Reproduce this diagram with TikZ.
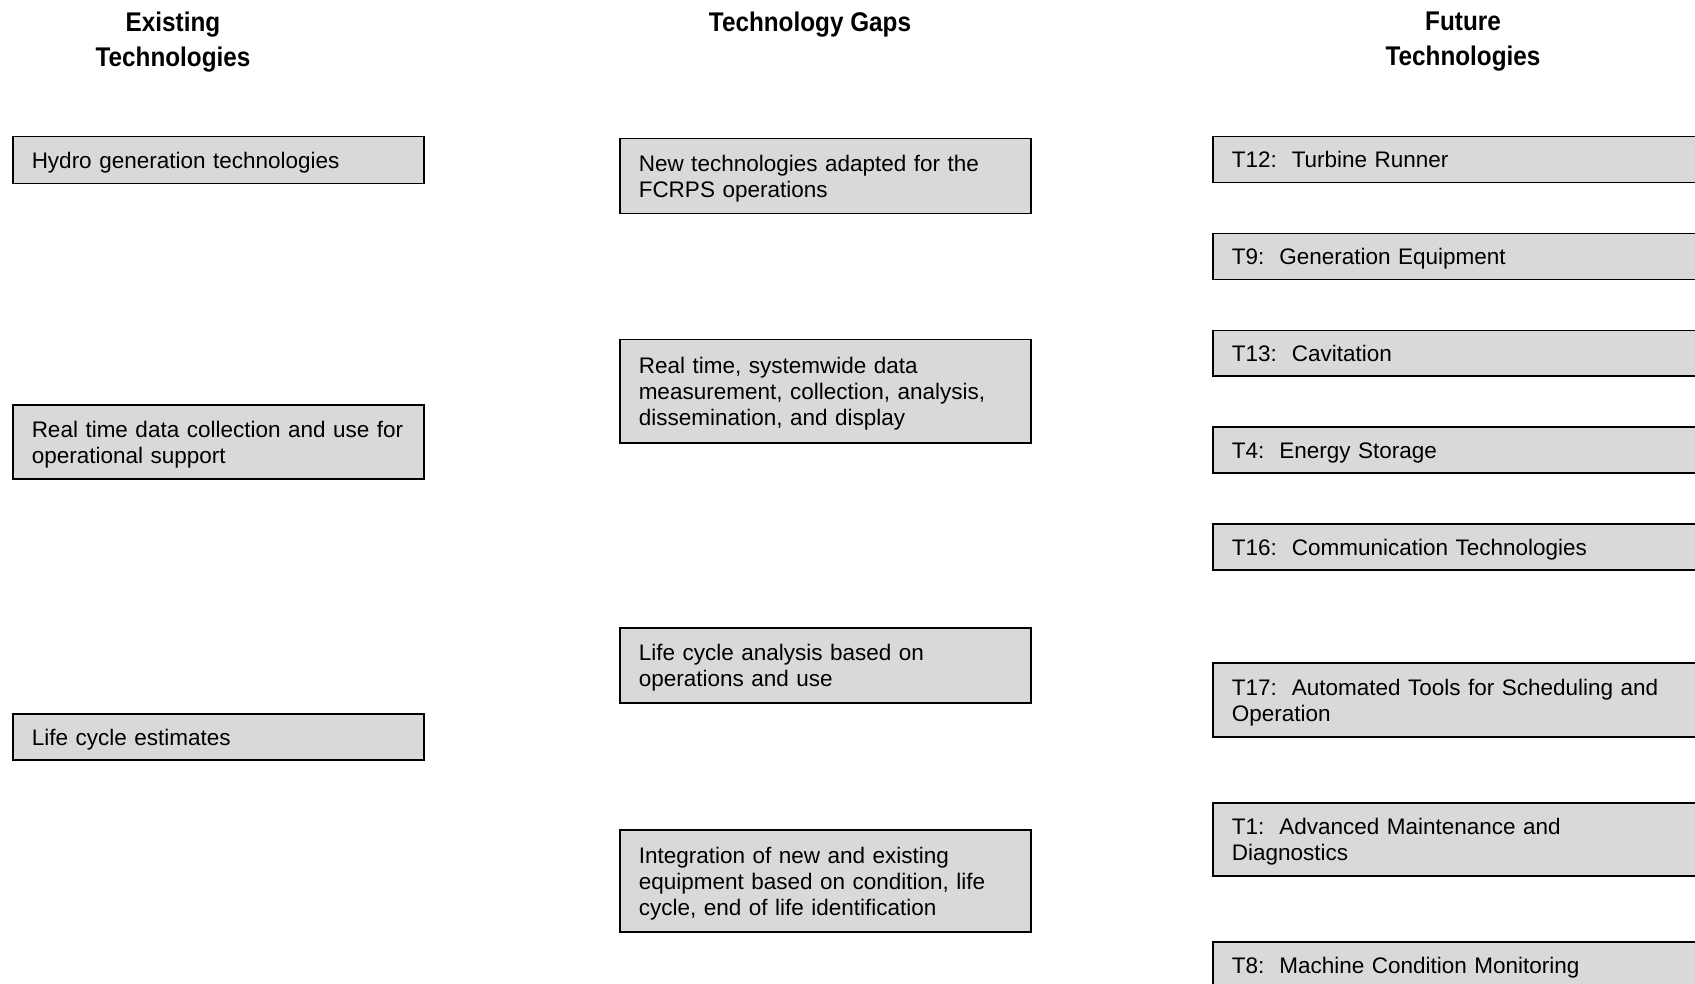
\documentclass[tikz,border=0pt]{standalone}
\usepackage{fontspec}
\setmainfont{Liberation Sans}
\newfontfamily\headfont{Liberation Sans}[FakeStretch=0.9]
\definecolor{boxgray}{RGB}{217,217,217}

\begin{document}
\begin{tikzpicture}[x=1pt,y=-1pt]\tikzset{head/.style={anchor=north, align=center, inner sep=0pt, font=\headfont\bfseries\fontsize{27}{35}\selectfont}, techbox/.style={draw, line width=1.5pt, fill=boxgray, anchor=north west, inner xsep=19pt, inner ysep=0pt, align=left, font=\fontsize{22.5}{26}\selectfont, execute at begin node={\rule{0pt}{21.5pt}}, execute at end node={\rule[-5pt]{0pt}{5pt}}}, oldbox/.style={techbox, text width=373pt}, gapbox/.style={techbox, text width=373pt}, newbox/.style={techbox, text width=470pt}}
	\useasboundingbox (0,0) rectangle (1695,984);
	\clip (0,0) rectangle (1695,984);
	% column heads
	\node[head] (hex) at (173,12) {Existing\\Technologies};
	\node[head] (hgap) at (810,12) {Technology Gaps};
	\node[head] (hfut) at (1463,12) {Future\\Technologies};
	% existing
	\node[oldbox, minimum height=47pt] (e1) at (12,136) {Hydro generation technologies};
	\node[oldbox, minimum height=74pt] (e2) at (12,404) {Real time data collection and use for\\operational support};
	\node[oldbox, minimum height=46pt] (e3) at (12,713) {Life cycle estimates};
	% gaps
	\node[gapbox, minimum height=75pt] (g1) at (619,138) {New technologies adapted for the\\FCRPS operations};
	\node[gapbox, minimum height=103pt] (g2) at (619,339) {Real time, systemwide data\\measurement, collection, analysis,\\dissemination, and display};
	\node[gapbox, minimum height=75pt] (g3) at (619,627) {Life cycle analysis based on\\operations and use};
	\node[gapbox, minimum height=102pt] (g4) at (619,829) {Integration of new and existing\\equipment based on condition, life\\cycle, end of life identification};
	% future
	\node[newbox, minimum height=46pt] (t12) at (1212,136) {T12:\ \ Turbine Runner};
	\node[newbox, minimum height=46pt] (t9) at (1212,233) {T9:\ \ Generation Equipment};
	\node[newbox, minimum height=45pt] (t13) at (1212,330) {T13:\ \ Cavitation};
	\node[newbox, minimum height=46pt] (t4) at (1212,426) {T4:\ \ Energy Storage};
	\node[newbox, minimum height=46pt] (t16) at (1212,523) {T16:\ \ Communication Technologies};
	\node[newbox, minimum height=74pt] (t17) at (1212,662) {T17:\ \ Automated Tools for Scheduling and\\Operation};
	\node[newbox, minimum height=73pt] (t1) at (1212,802) {T1:\ \ Advanced Maintenance and\\Diagnostics};
	\node[newbox, minimum height=46pt] (t8) at (1212,941) {T8:\ \ Machine Condition Monitoring};
\end{tikzpicture}
\end{document}
